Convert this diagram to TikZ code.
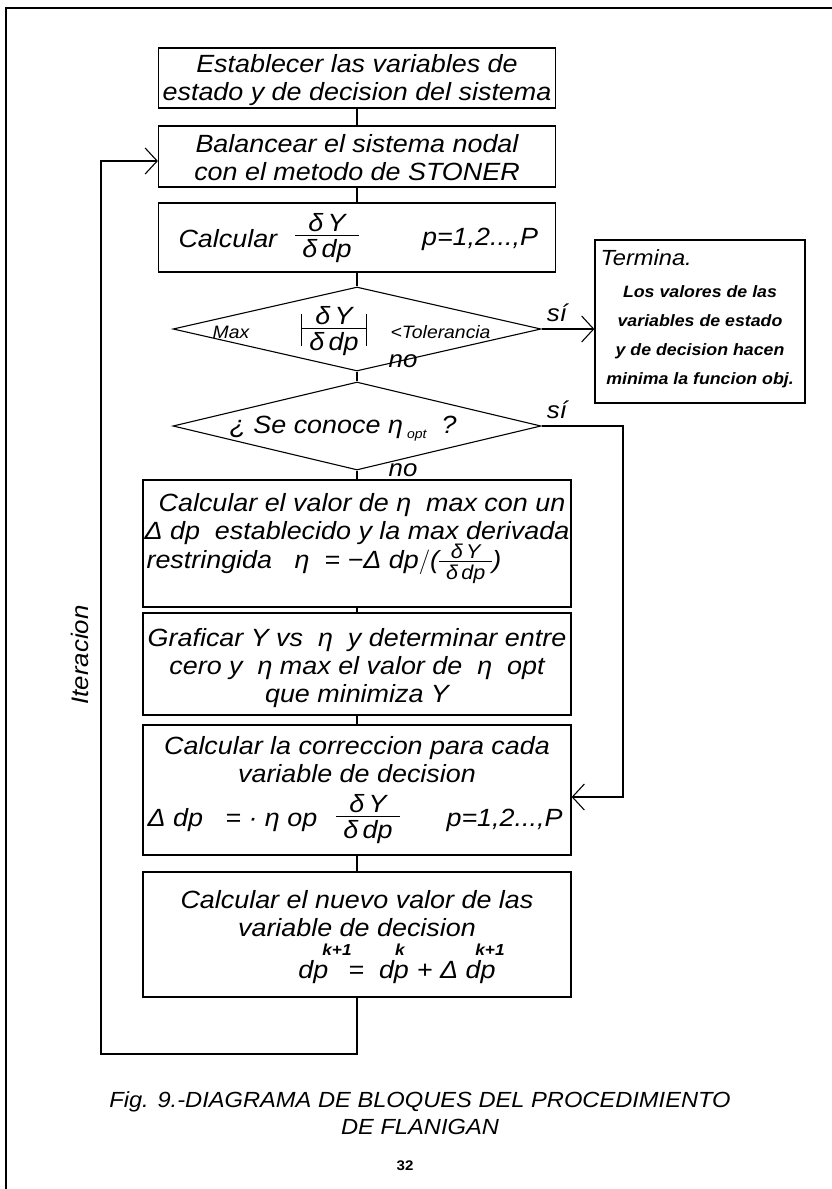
\documentclass[tikz,border=0pt]{standalone}
\usepackage{fontspec}
\setmainfont{Liberation Sans}[FakeStretch=1.08]
\usetikzlibrary{shapes.geometric,arrows.meta}
% compact fraction: numerator over a rule over denominator
\newcommand{\cfr}[2]{\ensuremath{\vcenter{\offinterlineskip\halign{\hfil\kern7bp##\kern7bp\hfil\cr
  \vrule width0pt height0.78em depth0.04em #1\cr
  \noalign{\kern0.1em\hrule height1bp\kern0.12em}
  \vrule width0pt height0.74em depth0.2em #2\cr}}}}
\newcommand{\dyd}{\cfr{δ\,Y}{δ\,dp}}
\newcommand{\absbar}{\ensuremath{\vcenter{\hbox{\vrule width1bp height0.65em depth0.65em}}}}
\begin{document}
\begin{tikzpicture}[x=1bp,y=-1bp,
  line width=1.1bp,
  box/.style={draw, rectangle, inner sep=0pt, line width=1.2bp},
  dia/.style={draw, diamond, inner sep=0pt, line width=1.1bp},
  txt/.style={inner sep=0pt, font=\fontsize{25}{28}\selectfont\itshape, align=center},
  sml/.style={inner sep=0pt, font=\fontsize{18}{20}\selectfont\itshape},
  lbl/.style={inner sep=0pt, font=\fontsize{24}{26}\selectfont\itshape},
  supx/.style={inner sep=0pt, font=\fontsize{16}{16}\selectfont\bfseries\itshape},
  arr/.style={-{Straight Barb[length=12bp,width=26bp]}},
]
\useasboundingbox (0,0) rectangle (832,1189);
% page frame
\draw[line width=1.3bp] (832,8) -- (6,8) -- (6,1189);

% boxes
\node[box, minimum width=397bp, minimum height=60bp] (b1) at (357,78) {};
\node[txt] (t1) at (357,80) {Establecer las variables de\\estado y de decision del sistema};

\node[box, minimum width=397bp, minimum height=61bp] (b2) at (357,156.5) {};
\node[txt] (t2) at (357,158) {Balancear el sistema nodal\\con el metodo de STONER};

\node[box, minimum width=397bp, minimum height=69bp] (b3) at (357,237.5) {};
\node[txt, anchor=west] (t3a) at (178,239) {Calcular};
\node[txt] (t3b) at (327,237) {\dyd};
\node[txt] (t3c) at (480,239) {p=1,2...,P};

% diamond 1
\node[dia, minimum width=368bp, minimum height=84bp] (d1) at (357,329) {};
\node[sml] (d1a) at (231,332) {Max};
\node[txt] (d1b) at (334,330) {\absbar\dyd\absbar};
\node[sml, anchor=west] (d1c) at (390,332) {<Tolerancia};
\node[lbl] (si1) at (557,313) {sí};
\node[lbl] (no1) at (403,361) {no};

% Termina box
\node[box, minimum width=210bp, minimum height=163bp] (term) at (700,321.5) {};
\node[inner sep=0pt, font=\fontsize{22}{24}\selectfont\itshape, anchor=west] (termt) at (600,258) {Termina.};
\node[inner sep=0pt, font=\fontsize{16.5}{29}\selectfont\bfseries\itshape, align=center] (termb) at (700,337) {Los valores de las\\variables de estado\\y de decision hacen\\minima la funcion obj.};

% diamond 2
\node[dia, minimum width=368bp, minimum height=88bp] (d2) at (357,426) {};
\node[txt] (d2a) at (343,429) {¿ Se conoce η\,\raisebox{-5bp}{\fontsize{13}{13}\selectfont opt}\ \ ?};
\node[lbl] (si2) at (557,410) {sí};
\node[lbl] (no2) at (403,470) {no};

% box 4
\node[box, minimum width=428bp, minimum height=127bp] (b4) at (357,543.5) {};
\node[txt] (t4a) at (362,505) {Calcular el valor de η\ \ max con un};
\node[txt] (t4b) at (357,533) {Δ dp\ \ establecido y la max derivada};
\node[txt, anchor=west] (t4c) at (146,563) {restringida\ \ \ η\ \ =\ −Δ dp$\Big/$({\fontsize{20}{22}\selectfont\cfr{δ\,Y}{δ\,dp}})};

% box 5
\node[box, minimum width=428bp, minimum height=102bp] (b5) at (357,664) {};
\node[txt] (t5) at (357,668) {Graficar Y vs\ \ η\ \ y determinar entre\\cero y\ \ η max el valor de\ \ η\ \ opt\\que minimiza Y};

% box 6
\node[box, minimum width=428bp, minimum height=130bp] (b6) at (357,790) {};
\node[txt] (t6a) at (357,760) {Calcular la correccion para cada\\variable de decision};
\node[txt, anchor=west] (t6b) at (147,820) {Δ dp\ \ \ =\ ·\ η op};
\node[txt] (t6c) at (368,818) {\dyd};
\node[txt, anchor=east] (t6d) at (563,820) {p=1,2...,P};

% box 7
\node[box, minimum width=428bp, minimum height=125bp] (b7) at (357,934.5) {};
\node[txt] (t7a) at (357,914) {Calcular el nuevo valor de las\\variable de decision};
\node[txt] (t7b) at (397,972) {dp\hspace{20bp}=\ \ dp\hspace{8bp}+ Δ dp};
\node[supx] (s1) at (337,950) {k+1};
\node[supx] (s2) at (400,950) {k};
\node[supx] (s3) at (490,950) {k+1};

% connectors
\draw (b1.south) -- (b2.north);
\draw (b2.south) -- (b3.north);
\draw (b3.south) -- (d1.north);
\draw (d1.south) -- (d2.north);
\draw (d2.south) -- (b4.north);
\draw (b4.south) -- (b5.north);
\draw (b5.south) -- (b6.north);
\draw (b6.south) -- (b7.north);
\draw[arr] (d1.east) -- (term.west |- d1.east);
\coordinate (c1) at (623,426);
\coordinate (c2) at (623,797);
\draw[arr] (d2.east) -- (c1) -- (c2) -- (b6.east |- c2);
\coordinate (l1) at (357,1054);
\coordinate (l2) at (101,1054);
\coordinate (l3) at (101,161);
\draw[arr] (b7.south) -- (l1) -- (l2) -- (l3) -- (b2.west |- l3);

\node[lbl, rotate=90] (it) at (80,655) {Iteracion};

% caption
\node[inner sep=0pt, font=\fontsize{22}{27}\selectfont\itshape, align=center] (cap) at (420,1113) {Fig. 9.-DIAGRAMA DE BLOQUES DEL PROCEDIMIENTO\\DE FLANIGAN};
\node[inner sep=0pt, font=\fontsize{14}{14}\selectfont\bfseries] (pg) at (405,1166) {32};
\end{tikzpicture}
\end{document}
